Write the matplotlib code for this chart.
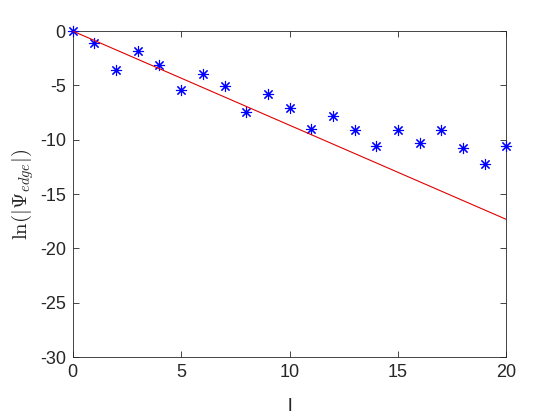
import numpy as np
import matplotlib
matplotlib.use('Agg')
import matplotlib.pyplot as plt

# data
l_vals = np.arange(0, 21)
ln_psi = [0, -1.13, -3.56, -1.87, -3.16, -5.46, -3.93, -5.06, -7.48, -5.80,
          -7.12, -9.02, -7.85, -9.11, -10.58, -9.11, -10.34, -9.11, -10.80,
          -12.24, -10.61]
fit_l = [0, 20]
fit_y = [0, -17.33]

plt.rcParams['font.family'] = ['Liberation Sans', 'DejaVu Sans']
plt.rcParams['mathtext.fontset'] = 'cm'
plt.rcParams['axes.unicode_minus'] = False

fig = plt.figure(figsize=(5.6, 4.2), dpi=100)
ax = fig.add_axes([0.130, 0.150, 0.774, 0.776])

# matlab-style asterisk: + and x together
ax.plot(l_vals, ln_psi, linestyle='none', marker=(8, 2, 0), color='#0000ff',
        markersize=8, markeredgewidth=0.8, clip_on=False, zorder=3)
ax.plot(fit_l, fit_y, '-', color='#e00000', linewidth=0.8, zorder=4)

ax.set_xlim(0, 20)
ax.set_ylim(-30, 0)
ax.set_xticks([0, 5, 10, 15, 20])
ax.set_yticks([-30, -25, -20, -15, -10, -5, 0])

gray = '#262626'
for s in ax.spines.values():
    s.set_color(gray)
    s.set_linewidth(0.6)
ax.tick_params(direction='in', top=True, right=True, length=4, width=0.6,
               colors=gray, labelsize=13, labelcolor=gray, pad=5)

ax.set_xlabel('l', fontsize=14, color=gray, labelpad=12)
ax.set_ylabel(r'$\ln(|\Psi_{edge}|)$', fontsize=15, color=gray, labelpad=3)

fig.savefig('out.png', dpi=100)
